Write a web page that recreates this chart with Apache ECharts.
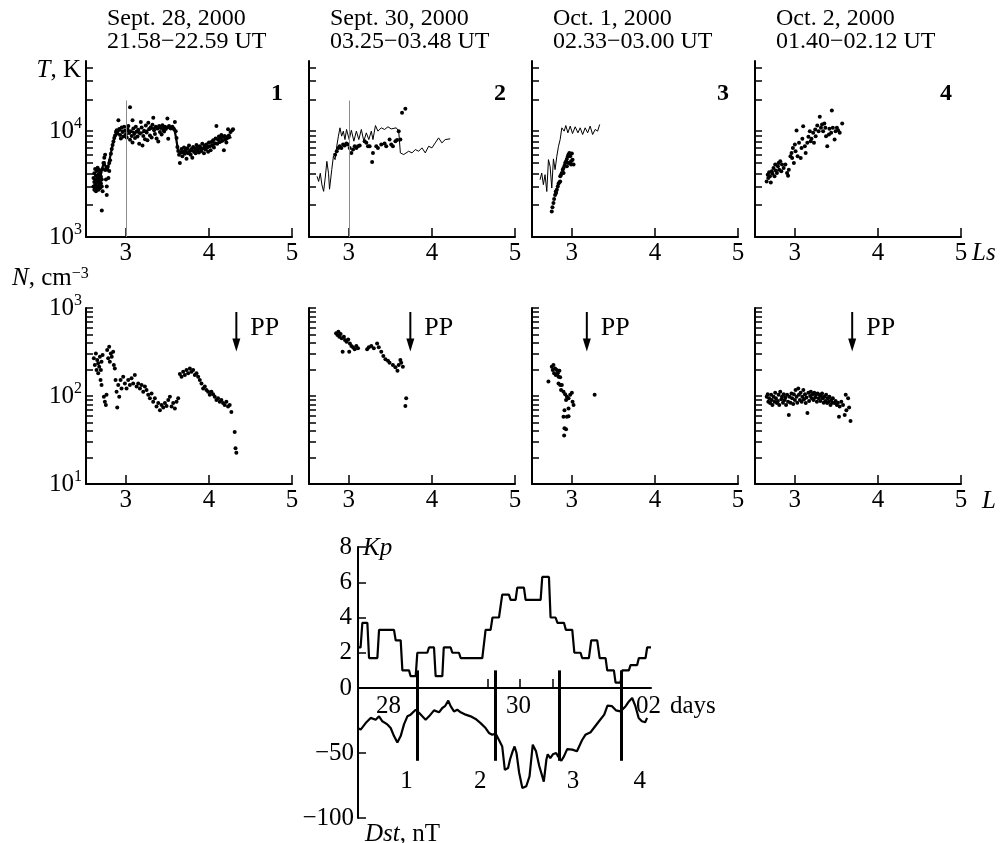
<!DOCTYPE html>
<html>
<head>
<meta charset="utf-8">
<script src="https://cdn.jsdelivr.net/npm/echarts@6/dist/echarts.min.js"></script>
<style>
  html, body { margin: 0; padding: 0; background: #fff; }
  #chart { width: 1005px; height: 843px; }
</style>
</head>
<body>
<div id="chart"></div>
<script>
// ---- top row: temperature T (K) vs Ls ----
var tempDots1 = [
  [2.61,3000],[2.61,3600],[2.62,2800],[2.62,3300],[2.62,4000],[2.63,3100],[2.63,3500],[2.63,4400],[2.64,2700],[2.64,3200],
  [2.64,3800],[2.65,2900],[2.65,3400],[2.65,4200],[2.66,3000],[2.66,3600],[2.66,4500],[2.67,2800],[2.67,3300],[2.67,3900],
  [2.68,3100],[2.68,3500],[2.68,4300],[2.69,2900],[2.69,3400],[2.69,4100],[2.70,3200],[2.70,3700],[2.71,1780],[2.71,3000],
  [2.71,3500],[2.72,2700],[2.72,4400],[2.73,5000],[2.74,5600],[2.75,6000],[2.75,4300],[2.76,3500],[2.77,2500],[2.77,3000],
  [2.78,4600],[2.79,3600],[2.80,4200],[2.80,5000],[2.81,5300],[2.82,6100],[2.83,6800],[2.84,7400],[2.85,8000],[2.86,8600],
  [2.87,9100],[2.88,9800],[2.89,10200],[2.90,9500],[2.91,12700],[2.92,10500],[2.93,9200],[2.94,8500],[2.95,10800],[2.96,9800],
  [2.97,8900],[2.98,11000],[2.99,10100],[3.00,9300],[3.01,8700],[3.02,10400],[3.03,11200],[3.04,9600],[3.05,16800],[3.05,8300],
  [3.06,10000],[3.07,9000],[3.08,12700],[3.08,7800],[3.09,10600],[3.10,9400],[3.11,8600],[3.12,11000],[3.13,9900],[3.14,8900],
  [3.15,10300],[3.16,7600],[3.17,9500],[3.18,12200],[3.19,10800],[3.20,7300],[3.21,9000],[3.22,10100],[3.23,8400],[3.24,11300],
  [3.25,9700],[3.26,8200],[3.27,12000],[3.28,10500],[3.29,9100],[3.30,10900],[3.31,8700],[3.32,11500],[3.33,13400],[3.34,10200],
  [3.35,9400],[3.36,11000],[3.37,8500],[3.38,10600],[3.39,8000],[3.40,11200],[3.41,9800],[3.42,10700],[3.43,9300],[3.44,11400],
  [3.45,10300],[3.46,9900],[3.47,11000],[3.48,10500],[3.50,13200],[3.50,10800],[3.51,8470],[3.52,11200],[3.54,10600],[3.56,11000],
  [3.58,10400],[3.59,12200],[3.60,10000],[3.61,8600],[3.62,7100],[3.63,6500],[3.64,6000],[3.65,5000],[3.66,6300],[3.67,6800],
  [3.68,5800],[3.69,6400],[3.70,7000],[3.71,6100],[3.72,6600],[3.73,5500],[3.74,6900],[3.75,6200],[3.76,7300],[3.77,6500],
  [3.78,6000],[3.79,6800],[3.80,5600],[3.81,7100],[3.82,6400],[3.83,6900],[3.84,6200],[3.85,7400],[3.86,6600],[3.87,7000],
  [3.88,6300],[3.89,7200],[3.90,6800],[3.91,6500],[3.92,7600],[3.93,6900],[3.94,6200],[3.95,7300],[3.96,6700],[3.97,7500],
  [3.98,7000],[3.99,6400],[4.00,7800],[4.01,7200],[4.02,6600],[4.03,7900],[4.04,7300],[4.05,8200],[4.06,7000],[4.07,7700],
  [4.08,8500],[4.09,11200],[4.10,7600],[4.11,8300],[4.12,8900],[4.13,7900],[4.14,8600],[4.15,9200],[4.16,8100],[4.17,8800],
  [4.18,6600],[4.19,9000],[4.20,8400],[4.21,7800],[4.22,8800],[4.23,10400],[4.24,9100],[4.26,9800],[4.28,10200],[4.29,10400]
];
var tempLine1 = [
  [2.62,3300],[2.66,3500],[2.70,3900],[2.72,4600],[2.74,5200],[2.76,4400],[2.78,4200],[2.80,5200],[2.83,6800],[2.86,8500],
  [2.89,9800],[2.93,10200],[3.0,10000],[3.1,9800],[3.2,9700],[3.3,10500],[3.4,11000],[3.5,10900],[3.58,10800],[3.6,9000],
  [3.63,6500],[3.7,6200],[3.8,6500],[3.9,6800],[4.0,7200],[4.1,7600],[4.2,8300],[4.27,8800]
];
var tempDots2 = [
  [2.834,6000],[2.854,6460],[2.874,6950],[2.89,7200],[2.91,6950],[2.93,7470],[2.95,7310],[2.97,7640],[2.99,7470],[3.01,6950],
  [3.03,6230],[3.05,6700],[3.07,7200],[3.09,6950],[3.11,7200],[3.13,7310],[3.19,8040],[3.21,7750],[3.23,7200],[3.25,7200],
  [3.28,5120],[3.29,6230],[3.33,7200],[3.35,6950],[3.39,7470],[3.43,7640],[3.45,7200],[3.49,8330],[3.51,7470],[3.53,7200],
  [3.56,8040],[3.58,8250],[3.60,10000],[3.62,8330],[3.64,14930],[3.68,16300]
];
var tempLine2 = [
  [2.617,3740],[2.636,3350],[2.656,4000],[2.676,3100],[2.696,2700],[2.715,3600],[2.735,5180],[2.755,4000],[2.767,2830],[2.794,4330],
  [2.814,5800],[2.834,5380],[2.854,7200],[2.874,8970],[2.893,10750],[2.913,8970],[2.933,10000],[2.953,8330],[2.972,10370],[3.004,8330],
  [3.03,10200],[3.06,8040],[3.09,10000],[3.12,8330],[3.15,10370],[3.18,8040],[3.21,9640],[3.24,8330],[3.27,10000],[3.29,8330],
  [3.32,11300],[3.35,10000],[3.39,10750],[3.43,10370],[3.47,11000],[3.51,10500],[3.57,10750],[3.60,10000],[3.62,6230],[3.66,6010],
  [3.72,6460],[3.76,6230],[3.80,6700],[3.84,6460],[3.88,6950],[3.92,6230],[3.96,7200],[4.0,6950],[4.04,7750],[4.08,8640],
  [4.12,7750],[4.16,8330],[4.22,8460]
];
var tempDots3 = [
  [2.758,1740],[2.766,1910],[2.778,2090],[2.786,2280],[2.798,2500],[2.806,2690],[2.819,2790],[2.83,3000],[2.839,3185],[2.85,3290],
  [2.859,3350],[2.87,3880],[2.879,4020],[2.89,4330],[2.899,4490],[2.911,4720],[2.919,5000],[2.93,5190],[2.94,5470],[2.952,5800],
  [2.96,6010],[2.97,6230],[2.98,5800],[2.99,5190],[3.0,6140],[3.008,5380],[3.02,4830],[2.99,4830],[2.96,5000],[2.94,4650],
  [2.9,4020],[2.86,3740],[2.81,2600]
];
var tempLine3 = [
  [2.617,3475],[2.637,4020],[2.657,3120],[2.677,3880],[2.698,2690],[2.718,5380],[2.738,4650],[2.758,2900],[2.778,5470],[2.798,4330],
  [2.819,5800],[2.839,7200],[2.859,8330],[2.879,10750],[2.907,10000],[2.927,11300],[2.952,9640],[2.98,11150],[3.008,9500],[3.04,11000],
  [3.073,9640],[3.10,10750],[3.13,9300],[3.16,10750],[3.19,9640],[3.22,11150],[3.25,9300],[3.28,10370],[3.31,10000],[3.335,11570]
];
var tempDots4 = [
  [2.66,3350],[2.673,3880],[2.68,3600],[2.69,4080],[2.70,3740],[2.71,3280],[2.722,4170],[2.73,3960],[2.743,4480],[2.755,3740],
  [2.763,4830],[2.77,4260],[2.784,4020],[2.796,4650],[2.804,5000],[2.812,4330],[2.824,5190],[2.837,4170],[2.845,4830],[2.865,4480],
  [2.886,4830],[2.906,4020],[2.918,3800],[2.927,4330],[2.947,5800],[2.96,6230],[2.967,5590],[2.976,6950],[2.988,5000],[3.0,7470],
  [3.008,6460],[3.02,10150],[3.033,5800],[3.05,7750],[3.07,5590],[3.08,6950],[3.09,8460],[3.10,11150],[3.12,7200],[3.13,6230],
  [3.15,7750],[3.163,8830],[3.18,10000],[3.19,8040],[3.20,8460],[3.22,9640],[3.23,7750],[3.245,10370],[3.25,8970],[3.27,11300],
  [3.286,10000],[3.30,13680],[3.314,10750],[3.327,11570],[3.34,10000],[3.355,11820],[3.367,10750],[3.375,8970],[3.39,7200],[3.41,9300],
  [3.416,10520],[3.437,9640],[3.445,15700],[3.457,10750],[3.478,8330],[3.49,10000],[3.506,10750],[3.52,10220],[3.54,9640],[3.57,11820]
];

// ---- bottom row: density N (cm^-3) vs L ----
var densDots1 = [
  [2.614,268],[2.626,225],[2.639,305],[2.647,197],[2.655,257],[2.667,181],[2.667,235],[2.679,215],[2.687,280],[2.695,152],
  [2.699,197],[2.707,133],[2.707,245],[2.72,292],[2.735,98],[2.747,86],[2.759,79],[2.767,103],[2.775,333],[2.787,268],
  [2.799,363],[2.807,245],[2.819,305],[2.83,280],[2.847,319],[2.855,225],[2.867,206],[2.876,152],[2.888,112],[2.896,74],
  [2.908,133],[2.92,98],[2.936,152],[2.948,122],[2.968,166],[2.988,139],[3.008,122],[3.028,152],[3.048,133],[3.068,159],
  [3.088,139],[3.108,173],[3.129,128],[3.149,139],[3.169,122],[3.189,133],[3.209,112],[3.229,128],[3.249,117],[3.269,103],
  [3.289,94],[3.309,107],[3.329,86],[3.349,94],[3.369,76],[3.39,83],[3.41,69],[3.43,79],[3.45,74],[3.47,83],
  [3.49,77],[3.51,90],[3.53,98],[3.55,76],[3.57,83],[3.59,72],[3.61,86],[3.63,94],[3.65,178],[3.67,166],
  [3.69,189],[3.71,173],[3.73,197],[3.75,181],[3.77,206],[3.79,189],[3.81,197],[3.83,173],[3.85,181],[3.87,166],
  [3.89,152],[3.91,139],[3.93,122],[3.95,128],[3.97,117],[3.99,112],[4.01,103],[4.03,112],[4.05,105],[4.07,98],
  [4.09,90],[4.11,94],[4.13,86],[4.15,90],[4.17,83],[4.19,79],[4.21,86],[4.23,76],[4.25,79],[4.27,66],
  [4.31,39],[4.32,25.4],[4.33,22.7]
];
var densDots2 = [
  [2.846,515],[2.862,493],[2.874,538],[2.885,472],[2.90,505],[2.913,452],[2.925,319],[2.94,472],[2.953,433],[2.972,414],
  [2.992,440],[3.004,319],[3.012,396],[3.03,370],[3.05,357],[3.07,339],[3.09,370],[3.11,348],[3.22,339],[3.24,357],
  [3.27,370],[3.30,348],[3.34,396],[3.36,357],[3.39,319],[3.415,285],[3.44,261],[3.47,252],[3.49,239],[3.53,225],
  [3.56,212],[3.585,194],[3.60,225],[3.62,256],[3.63,239],[3.65,215],[3.69,94],[3.68,77]
];
var densDots3 = [
  [2.718,146],[2.758,215],[2.77,197],[2.778,225],[2.786,181],[2.798,206],[2.806,173],[2.819,197],[2.83,181],[2.839,166],
  [2.85,194],[2.859,163],[2.839,139],[2.859,133],[2.879,133],[2.87,117],[2.899,112],[2.919,105],[2.94,98],[2.93,90],
  [2.96,94],[2.98,103],[3.0,109],[3.008,86],[3.02,79],[2.96,72],[2.911,69],[2.899,58],[2.94,58],[2.96,59],
  [2.911,43],[2.93,42],[2.907,35.5],[3.274,103]
];
var densDots4 = [
  [2.661,98],[2.673,105],[2.68,86],[2.69,94],[2.702,83],[2.714,103],[2.722,90],[2.73,79],[2.743,98],[2.755,86],
  [2.763,109],[2.771,94],[2.784,83],[2.796,88],[2.804,103],[2.812,79],[2.824,112],[2.837,92],[2.845,98],[2.857,84],
  [2.865,105],[2.878,90],[2.886,96],[2.894,79],[2.906,103],[2.918,86],[2.927,61],[2.935,98],[2.947,84],[2.959,107],
  [2.967,94],[2.98,81],[2.988,105],[3.0,90],[3.008,117],[3.02,98],[3.029,84],[3.041,122],[3.049,103],[3.061,90],
  [3.069,109],[3.082,86],[3.09,98],[3.102,117],[3.11,92],[3.122,105],[3.131,83],[3.139,96],[3.151,64],[3.163,109],
  [3.171,88],[3.184,100],[3.192,112],[3.204,94],[3.212,105],[3.224,90],[3.233,109],[3.245,96],[3.253,103],[3.265,86],
  [3.273,107],[3.286,94],[3.294,103],[3.306,88],[3.314,100],[3.327,107],[3.335,94],[3.347,84],[3.355,98],[3.367,88],
  [3.376,103],[3.388,83],[3.396,94],[3.408,86],[3.416,98],[3.429,79],[3.437,90],[3.449,84],[3.457,94],[3.478,83],
  [3.49,88],[3.506,79],[3.518,84],[3.531,58],[3.539,76],[3.559,86],[3.58,79],[3.60,61],[3.612,103],[3.62,69],
  [3.641,94],[3.653,74],[3.67,52]
];
var ppL = [4.33, 3.74, 3.18, 3.69];          // plasmapause position per pass
var ppArrowTop = 900, ppArrowTip = 320;       // arrow extent, cm^-3
var refLineL = 3, refLineTop = 19500;

var panelTitles = [
  ['Sept. 28, 2000', '21.58\u221222.59 UT'],
  ['Sept. 30, 2000', '03.25\u221203.48 UT'],
  ['Oct. 1, 2000', '02.33\u221203.00 UT'],
  ['Oct. 2, 2000', '01.40\u221202.12 UT']
];
var lTicks = [3, 4, 5];
var tLabels = [1000, 10000];
var tTicks = [1000, 2000, 3000, 4000, 5000, 6000, 7000, 8000, 9000, 10000, 20000, 30000, 40000];
var nLabels = [10, 100, 1000];
var nTicks = [10, 20, 30, 40, 50, 60, 70, 80, 90, 100, 200, 300, 400, 500, 600, 700, 800, 900, 1000];

// ---- Kp and Dst, days of Sept/Oct 2000 ----
var kpLine = [
  [28.0,2.3],[28.04,2.3],[28.067,3.7],[28.144,3.7],[28.17,1.7],[28.298,1.7],[28.324,3.3],[28.554,3.3],[28.58,2.7],[28.657,2.7],
  [28.683,1.0],[28.785,1.0],[28.81,0.67],[28.888,0.67],[28.913,2.0],[29.067,2.0],[29.093,2.3],[29.17,2.3],[29.195,0.67],[29.298,0.67],
  [29.32,2.3],[29.426,2.3],[29.452,2.0],[29.554,2.0],[29.58,1.7],[29.913,1.7],[29.964,3.3],[30.041,3.3],[30.07,4.0],[30.17,4.0],
  [30.22,5.3],[30.323,5.3],[30.349,5.0],[30.426,5.0],[30.452,5.7],[30.554,5.7],[30.58,5.0],[30.811,5.0],[30.836,6.3],[30.939,6.3],
  [30.964,4.0],[31.041,4.0],[31.07,3.7],[31.17,3.7],[31.2,3.3],[31.298,3.3],[31.33,2.0],[31.426,2.0],[31.45,1.7],[31.554,1.7],
  [31.59,2.7],[31.682,2.7],[31.72,1.7],[31.811,1.7],[31.836,1.0],[31.939,1.0],[31.964,0.3],[32.041,0.3],[32.067,1.0],[32.169,1.0],
  [32.195,1.3],[32.297,1.3],[32.323,1.7],[32.426,1.7],[32.451,2.3],[32.51,2.3]
];
var dstLine = [
  [28.0,-31],[28.041,-32],[28.118,-27],[28.195,-23],[28.272,-24.4],[28.324,-21.8],[28.375,-25.6],[28.452,-28],[28.503,-30.8],[28.554,-37],
  [28.606,-42],[28.657,-37],[28.708,-28],[28.76,-21.8],[28.81,-20.5],[28.888,-16.7],[28.939,-19],[28.99,-21.8],[29.041,-24.4],[29.093,-21.8],
  [29.17,-17.2],[29.247,-18.7],[29.298,-15.4],[29.339,-14],[29.39,-9.7],[29.426,-14],[29.477,-18],[29.528,-16.7],[29.58,-18.7],[29.657,-20.5],
  [29.734,-21.8],[29.81,-23.8],[29.887,-27],[29.964,-30.8],[30.015,-34.6],[30.067,-36],[30.118,-35],[30.17,-40],[30.22,-45],[30.26,-63],
  [30.31,-61.5],[30.34,-55],[30.38,-48.7],[30.41,-45],[30.44,-50],[30.48,-65],[30.53,-77],[30.59,-75.6],[30.64,-68],[30.69,-43.6],
  [30.74,-48.7],[30.79,-60],[30.86,-72],[30.9,-55],[30.92,-51],[30.96,-54],[31.0,-51],[31.05,-50],[31.08,-52.6],[31.13,-56],
  [31.17,-52.6],[31.22,-47],[31.30,-47.4],[31.37,-48.7],[31.45,-40],[31.50,-36],[31.58,-34],[31.63,-30.8],[31.71,-25.6],[31.79,-20.5],
  [31.84,-13.6],[31.91,-14],[31.97,-17.2],[32.04,-18],[32.12,-14],[32.17,-10.3],[32.22,-7.7],[32.27,-14],[32.32,-23],[32.37,-25.6],
  [32.42,-26.4],[32.45,-23]
];
var eventTimes = [28.913, 30.118, 31.092, 32.05];
var eventKpTop = 1.0, eventDstBottom = -56;
var eventLabels = ['1', '2', '3', '4'];
var eventLabelAt = [[28.745, -72], [29.88, -72], [31.31, -72], [32.335, -72]];
var dayTicks = [30.0, 30.49, 31.0];
var dayLabelAt = [28.47, 30.47, 32.47];
var dayLabels = ['28', '30', '02'];

var SERIF = '"Liberation Serif", "Times New Roman", serif';
var BLACK = '#000';
var chart = echarts.init(document.getElementById('chart'));

var colLeft = [86, 309, 532, 755];
var grids = [], xAxes = [], yAxes = [], series = [];

function lineStyle() {
  return { show: true, onZero: false, lineStyle: { color: BLACK, width: 2 } };
}
function ticks(values, len) {
  return { show: true, inside: true, length: len, customValues: values, lineStyle: { color: BLACK, width: 1.5 } };
}
var supRich = {
  b: { fontSize: 25, fontFamily: SERIF, color: BLACK, lineHeight: 30 },
  s: { fontSize: 16, fontFamily: SERIF, color: BLACK, verticalAlign: 'top' }
};
function lAxis(gi) {
  return {
    type: 'value', gridIndex: gi, min: 2.52, max: 5,
    axisLine: lineStyle(), axisTick: ticks(lTicks, 9), splitLine: { show: false },
    axisLabel: { customValues: lTicks, margin: 4, fontSize: 25, fontFamily: SERIF, color: BLACK }
  };
}
function logAxis(gi, min, max, tickVals, labelVals, showLabel) {
  return {
    type: 'log', logBase: 10, gridIndex: gi, min: min, max: max,
    axisLine: lineStyle(), axisTick: ticks(tickVals, 7), splitLine: { show: false },
    axisLabel: {
      show: showLabel, customValues: labelVals, margin: 4, rich: supRich,
      formatter: function (v) { return '{b|10}{s|' + Math.round(Math.log10(v)) + '}'; }
    }
  };
}
function dots(data, gi) {
  return { type: 'scatter', xAxisIndex: gi, yAxisIndex: gi, data: data, symbolSize: 4,
    itemStyle: { color: BLACK, opacity: 1 }, silent: true, z: 3 };
}
function curve(data, gi, w) {
  return { type: 'line', xAxisIndex: gi, yAxisIndex: gi, data: data, showSymbol: false, symbol: 'none',
    lineStyle: { color: BLACK, width: w }, silent: true, z: 2 };
}
var refMark = {
  silent: true, symbol: 'none', label: { show: false },
  lineStyle: { color: '#8c8c8c', width: 1, type: 'solid', opacity: 1 },
  data: [[{ coord: [refLineL, 1000] }, { coord: [refLineL, refLineTop] }]]
};

var tempDots = [tempDots1, tempDots2, tempDots3, tempDots4];
var densDots = [densDots1, densDots2, densDots3, densDots4];
for (var i = 0; i < 4; i++) {
  grids.push({ left: colLeft[i], top: 61, width: 206, height: 176, outerBoundsMode: 'none' });
  xAxes.push(lAxis(i));
  yAxes.push(logAxis(i, 1000, 46000, tTicks, tLabels, i === 0));
  var s = dots(tempDots[i], i);
  if (i < 2) s.markLine = refMark;
  series.push(s);
}
for (var j = 0; j < 4; j++) {
  grids.push({ left: colLeft[j], top: 308, width: 206, height: 176, outerBoundsMode: 'none' });
  xAxes.push(lAxis(4 + j));
  yAxes.push(logAxis(4 + j, 10, 1000, nTicks, nLabels, j === 0));
  series.push(dots(densDots[j], 4 + j));
}
series.push(curve(tempLine1, 0, 2.2));
series.push(curve(tempLine2, 1, 1));
series.push(curve(tempLine3, 2, 1));

// Kp (grid 8) and Dst (grid 9)
grids.push({ left: 358, top: 547, width: 293, height: 141, outerBoundsMode: 'none' });
grids.push({ left: 358, top: 688, width: 293, height: 130, outerBoundsMode: 'none' });
xAxes.push({
  type: 'value', gridIndex: 8, min: 28.0, max: 32.51,
  axisLine: { show: true, lineStyle: { color: BLACK, width: 2 } },
  axisTick: ticks(dayTicks, 9), splitLine: { show: false },
  axisLabel: {
    customValues: dayLabelAt, margin: 6, fontSize: 25, fontFamily: SERIF, color: BLACK,
    formatter: function (v) {
      for (var k = 0; k < dayLabelAt.length; k++) if (Math.abs(v - dayLabelAt[k]) < 1e-6) return dayLabels[k];
      return '';
    }
  }
});
xAxes.push({ type: 'value', gridIndex: 9, min: 28.0, max: 32.51, show: false });
yAxes.push({
  type: 'value', gridIndex: 8, min: 0, max: 8, interval: 2,
  axisLine: lineStyle(), splitLine: { show: false },
  axisTick: { show: true, inside: true, length: 8, lineStyle: { color: BLACK, width: 1.5 } },
  axisLabel: { margin: 6, fontSize: 25, fontFamily: SERIF, color: BLACK }
});
yAxes.push({
  type: 'value', gridIndex: 9, min: -100, max: 0, interval: 50,
  axisLine: lineStyle(), splitLine: { show: false },
  axisTick: { show: true, inside: true, length: 8, lineStyle: { color: BLACK, width: 1.5 } },
  axisLabel: {
    margin: 4, fontSize: 25, fontFamily: SERIF, color: BLACK,
    formatter: function (v) { return v === 0 ? '' : '\u2212' + Math.abs(v); }
  }
});
var barStyle = { color: BLACK, width: 3, type: 'solid', opacity: 1 };
series.push({
  type: 'line', xAxisIndex: 8, yAxisIndex: 8, data: kpLine, showSymbol: false, symbol: 'none',
  lineStyle: { color: BLACK, width: 2.2 }, silent: true,
  markLine: {
    silent: true, symbol: 'none', label: { show: false }, lineStyle: barStyle,
    data: eventTimes.map(function (t) { return [{ coord: [t, eventKpTop] }, { coord: [t, 0] }]; })
  }
});
series.push({
  type: 'line', xAxisIndex: 9, yAxisIndex: 9, data: dstLine, showSymbol: false, symbol: 'none',
  lineStyle: { color: BLACK, width: 2.2 }, silent: true,
  markLine: {
    silent: true, symbol: 'none', label: { show: false }, lineStyle: barStyle,
    data: eventTimes.map(function (t) { return [{ coord: [t, 0] }, { coord: [t, eventDstBottom] }]; })
  }
});
series.push({
  type: 'scatter', xAxisIndex: 9, yAxisIndex: 9, symbolSize: 0, silent: true,
  data: eventLabelAt, itemStyle: { opacity: 1 },
  label: {
    show: true, position: 'inside', fontSize: 25, fontFamily: SERIF, color: BLACK,
    formatter: function (p) { return eventLabels[p.dataIndex]; }
  }
});

chart.setOption({
  animation: false,
  backgroundColor: '#fff',
  grid: grids,
  xAxis: xAxes,
  yAxis: yAxes,
  series: series
});

// text annotations
function txt(x, y, text, opt) {
  var st = {
    text: text, fontSize: 25, fontFamily: SERIF, fill: BLACK,
    align: 'left', textAlign: 'left', verticalAlign: 'middle', textVerticalAlign: 'middle'
  };
  for (var k in opt) st[k] = opt[k];
  return { type: 'text', x: x, y: y, silent: true, style: st };
}
var it = { fontSize: 25, fontFamily: SERIF, fontStyle: 'italic', fill: BLACK };
var sup = { fontSize: 16, fontFamily: SERIF, fill: BLACK, verticalAlign: 'top' };
var graphics = [];
for (var p = 0; p < 4; p++) {
  graphics.push(txt(colLeft[p] + 21, 19, panelTitles[p][0], { fontSize: 24 }));
  graphics.push(txt(colLeft[p] + 21, 42, panelTitles[p][1], { fontSize: 24 }));
  graphics.push(txt(colLeft[p] + 191, 94, String(p + 1), { fontWeight: 'bold', fontSize: 24, align: 'center', textAlign: 'center' }));
  var a = chart.convertToPixel({ gridIndex: 4 + p }, [ppL[p], ppArrowTop]);
  var b = chart.convertToPixel({ gridIndex: 4 + p }, [ppL[p], ppArrowTip]);
  graphics.push({ type: 'line', silent: true, shape: { x1: a[0], y1: a[1], x2: b[0], y2: b[1] - 8 },
    style: { stroke: BLACK, lineWidth: 2 } });
  graphics.push({ type: 'polygon', silent: true,
    shape: { points: [[b[0] - 4, b[1] - 13], [b[0] + 4, b[1] - 13], [b[0], b[1]]] }, style: { fill: BLACK } });
  graphics.push(txt(a[0] + 14, a[1] + 16, 'PP', { fontSize: 26 }));
}
graphics.push(txt(81, 70, '{i|T}, K', { align: 'right', textAlign: 'right', rich: { i: it } }));
graphics.push(txt(12, 278, '{i|N}, cm{s|\u22123}', { rich: { i: it, s: sup } }));
graphics.push(txt(972, 253, 'Ls', { fontStyle: 'italic' }));
graphics.push(txt(982, 501, 'L', { fontStyle: 'italic' }));
graphics.push(txt(363, 548, 'Kp', { fontStyle: 'italic' }));
graphics.push(txt(670, 706, 'days', {}));
graphics.push(txt(365, 834, '{i|Dst}, nT', { rich: { i: it } }));
chart.setOption({ graphic: graphics });

window.addEventListener('resize', function () { chart.resize(); });
</script>
</body>
</html>
